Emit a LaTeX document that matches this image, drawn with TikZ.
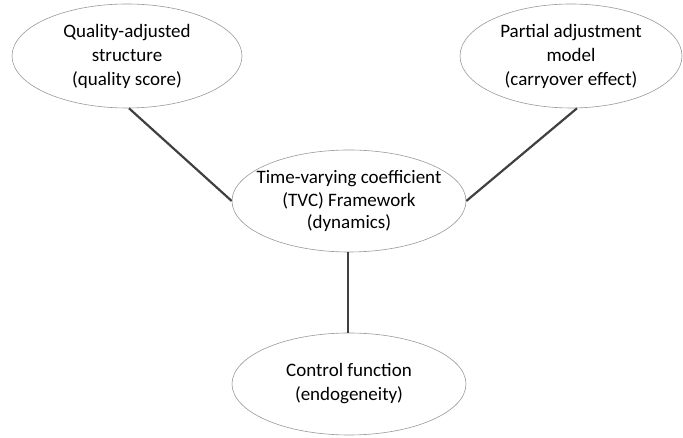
\documentclass[tikz,border=0pt]{standalone}
\usepackage{fontspec}
\setmainfont{Carlito}
\usetikzlibrary{shapes.geometric}
\tikzset{
  bubble/.style={draw=black!40, line width=0.6pt, ellipse, inner xsep=-40pt, inner ysep=-30pt, align=center,
    font=\fontsize{19}{24}\selectfont, text=black},
  link/.style={draw=black!75, line width=2.2pt}
}
\begin{document}
\begin{tikzpicture}[x=1pt,y=1pt]
\useasboundingbox (0,0) rectangle (683,438);
\node[bubble, minimum width=230pt, minimum height=104pt] (tl) at (127,382) {Quality-adjusted\\structure\\(quality score)};
\node[bubble, minimum width=222pt, minimum height=104pt] (tr) at (571,382) {Partial adjustment\\model\\(carryover effect)};
\node[bubble, minimum width=234pt, minimum height=102pt, font=\fontsize{19}{22.5}\selectfont] (c) at (349,237) {Time-varying coefficient\\(TVC) Framework\\(dynamics)};
\node[bubble, minimum width=234pt, minimum height=102pt] (b) at (349,54) {Control function\\(endogeneity)};
\draw[link] ([xshift=2pt]tl.south) -- (c.west);
\draw[link] ([xshift=6pt]tr.south) -- (c.east);
\draw[link] ([xshift=-1pt]c.south) -- ([xshift=-1pt]b.north);
\end{tikzpicture}
\end{document}
